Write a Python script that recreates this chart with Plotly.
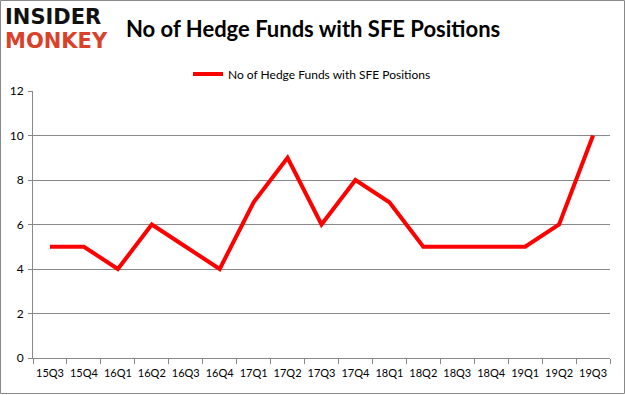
import plotly.graph_objects as go

quarters = ["15Q3", "15Q4", "16Q1", "16Q2", "16Q3", "16Q4", "17Q1", "17Q2", "17Q3",
            "17Q4", "18Q1", "18Q2", "18Q3", "18Q4", "19Q1", "19Q2", "19Q3"]
funds = [5, 5, 4, 6, 5, 4, 7, 9, 6, 8, 7, 5, 5, 5, 5, 6, 10]
series_name = "No of Hedge Funds with SFE Positions"
title_text = "No of Hedge Funds with SFE Positions"

W, H = 625, 395
L, R, T, B = 33, 610, 91, 358

def px_x(x):
    return (x - L) / (R - L)

def px_y(y):
    return (B - y) / (B - T)

fig = go.Figure()
fig.add_trace(go.Scatter(
    x=quarters, y=funds, mode="lines", name=series_name,
    line=dict(color="#ff0000", width=4),
))

fig.update_layout(
    width=W, height=H,
    margin=dict(l=L, r=W - R, t=T, b=H - B, autoexpand=False),
    paper_bgcolor="white", plot_bgcolor="white",
    font=dict(family="Lato, Open Sans, sans-serif", color="#000000", size=12),
    showlegend=True,
    legend=dict(orientation="h", x=px_x(312), y=px_y(74), xanchor="center", yanchor="middle",
                font=dict(size=12, color="#000000"), itemwidth=30, bgcolor="rgba(0,0,0,0)"),
    xaxis=dict(
        type="category", range=[-0.5, len(quarters) - 0.5],
        showline=True, linecolor="#888888", linewidth=1,
        ticks="outside", tickson="boundaries", ticklen=5, tickcolor="#888888",
        ticklabelstandoff=5,
        showgrid=False, tickangle=0, tickfont=dict(size=11, color="#000000"),
        automargin=False,
    ),
    yaxis=dict(
        range=[0, 12], dtick=2, tick0=0,
        showline=True, linecolor="#888888", linewidth=1,
        ticks="outside", ticklen=4, tickcolor="#888888",
        ticklabelstandoff=2,
        showgrid=True, gridcolor="#888888", gridwidth=1,
        zeroline=False, tickfont=dict(size=12, color="#000000"),
        automargin=False,
    ),
)

fig.add_annotation(text="<b>" + title_text + "</b>", xref="paper", yref="paper",
                   x=px_x(313), y=px_y(28), xanchor="center", yanchor="middle",
                   showarrow=False, font=dict(size=22, family="Lato, sans-serif", color="#000000"))
fig.add_annotation(text="<b>INSIDER</b>", xref="paper", yref="paper",
                   x=px_x(3), y=px_y(17), xanchor="left", yanchor="middle",
                   showarrow=False, font=dict(size=21, family="DejaVu Sans", color="#111111"))
fig.add_annotation(text="<b>MONKEY</b>", xref="paper", yref="paper",
                   x=px_x(3), y=px_y(41), xanchor="left", yanchor="middle",
                   showarrow=False, font=dict(size=21, family="DejaVu Sans", color="#d9412b"))

fig.add_shape(type="rect", xref="paper", yref="paper",
              x0=px_x(0.5), x1=px_x(624.5), y0=px_y(0.5), y1=px_y(393.5),
              line=dict(color="#888888", width=1), fillcolor="rgba(0,0,0,0)", layer="below")

fig.write_html("out.html", config={"displayModeBar": False},
               post_script="document.body.style.margin='0';document.body.style.overflow='hidden';")
